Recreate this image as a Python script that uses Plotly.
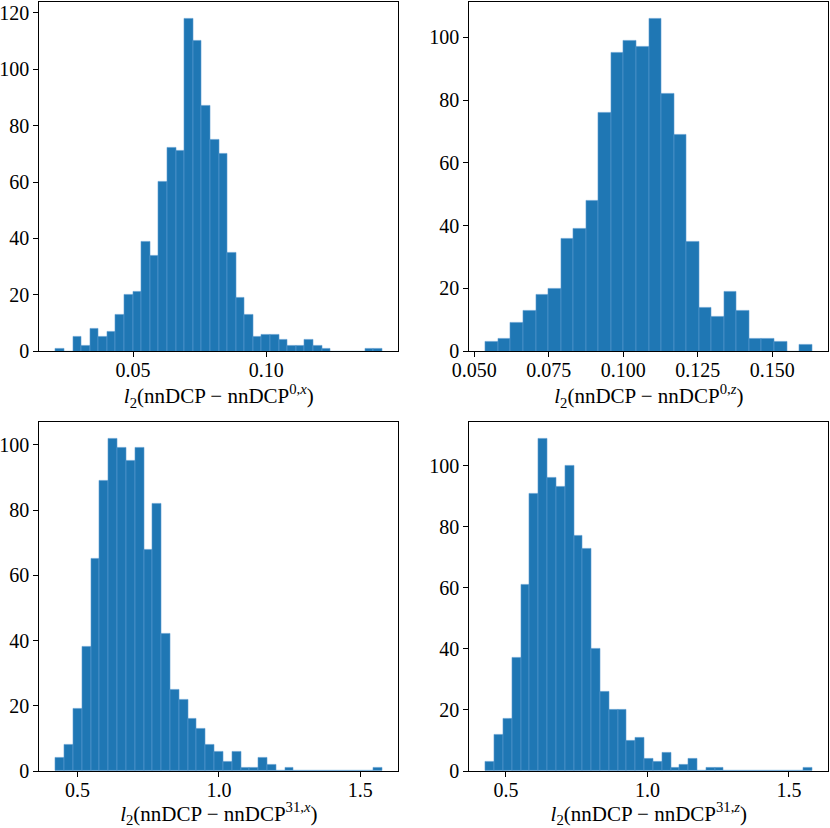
import numpy as np
import plotly.graph_objects as go

# histogram counts, one list per panel
# (first bin left edge, bin width, counts per bin)
start_0x = 0.02093
width_0x = 0.003225
counts_0x = [1, 0, 5, 2, 8, 5, 7, 13, 20, 21, 39, 34, 60, 72, 71, 118, 110, 87, 75,
             70, 35, 19, 13, 5, 6, 6, 4, 2, 2, 4, 2, 1, 0, 0, 0, 0, 1, 1]

start_0z = 0.0538
width_0z = 0.004212
counts_0z = [3, 4, 9, 13, 18, 20, 36, 39, 48, 76, 95, 99, 97, 106, 82, 69, 35, 14,
             11, 19, 13, 4, 4, 3, 0, 2]

start_31x = 0.4222
width_31x = 0.0312
counts_31x = [4, 8, 19, 38, 65, 89, 102, 99, 95, 99, 68, 82, 42, 25, 22, 16, 13, 8,
              6, 3, 6, 1, 1, 4, 2, 0, 1, 0, 0, 0, 0, 0, 0, 0, 0, 0, 1]

start_31z = 0.4282
width_31z = 0.03117
counts_31z = [3, 12, 17, 37, 61, 91, 109, 96, 93, 100, 77, 73, 40, 26, 20, 20, 10,
              11, 4, 3, 6, 1, 2, 4, 0, 1, 1, 0, 0, 0, 0, 0, 0, 0, 0, 0, 1]

labels = [
    "<i>l</i><sub>2</sub>(nnDCP − nnDCP<sup>0,<i>x</i></sup>)",
    "<i>l</i><sub>2</sub>(nnDCP − nnDCP<sup>0,<i>z</i></sup>)",
    "<i>l</i><sub>2</sub>(nnDCP − nnDCP<sup>31,<i>x</i></sup>)",
    "<i>l</i><sub>2</sub>(nnDCP − nnDCP<sup>31,<i>z</i></sup>)",
]

panels = [
    (start_0x, width_0x, counts_0x, 0.05, ".2f", 20),
    (start_0z, width_0z, counts_0z, 0.025, ".3f", 20),
    (start_31x, width_31x, counts_31x, 0.5, ".1f", 20),
    (start_31z, width_31z, counts_31z, 0.5, ".1f", 20),
]

W, H = 830, 828
xdom = [(39.3 / W, 398.3 / W), (469.3 / W, 828.3 / W)]
ydom = [(1 - 351.3 / H, 1 - 1.7 / H), (1 - 771.0 / H, 1 - 421.7 / H)]

font = dict(family="Liberation Serif, DejaVu Serif, serif", size=20, color="black")
tfont = dict(font, size=21)

fig = go.Figure()
layout = dict(
    width=W, height=H,
    margin=dict(l=0, r=0, t=0, b=0),
    paper_bgcolor="white", plot_bgcolor="white",
    showlegend=False, bargap=0, font=font,
)

for i, (s, w, c, dt, fmt, ydt) in enumerate(panels):
    n = len(c)
    centers = s + w * (np.arange(n) + 0.5)
    ax = "" if i == 0 else str(i + 1)
    fig.add_trace(go.Bar(
        x=centers, y=c, width=w,
        marker=dict(color="#1f77b4", line=dict(color="#5b9bd0", width=0.6)),
        xaxis="x" + ax, yaxis="y" + ax,
    ))
    lo = s
    hi = s + w * n
    pad = 0.05 * (hi - lo)
    row, col = divmod(i, 2)
    common = dict(showline=True, linecolor="black", linewidth=1.1, mirror=True,
                  ticks="outside", ticklen=5, tickwidth=1.1, tickcolor="black",
                  showgrid=False, zeroline=False, tickfont=font, automargin=False)
    layout["xaxis" + ax] = dict(
        common, domain=xdom[col], range=[lo - pad, hi + pad],
        anchor="y" + ax, tick0=0, dtick=dt, tickformat=fmt, ticklabelstandoff=-4,
        title=dict(text=labels[i], font=tfont, standoff=0),
    )
    layout["yaxis" + ax] = dict(
        common, domain=ydom[row], range=[0, max(c) * 1.05],
        anchor="x" + ax, tick0=0, dtick=ydt,
    )

fig.update_layout(**layout)
# drop the default page margin so the figure sits at the window's corner
fig.write_html("out.html", config={"displayModeBar": False},
               post_script="document.body.style.margin='0';")
